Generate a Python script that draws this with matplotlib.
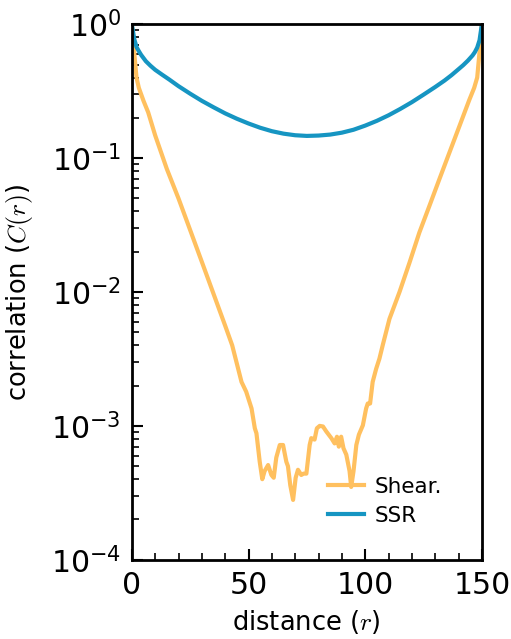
import numpy as np
import matplotlib
matplotlib.use("Agg")
from matplotlib import pyplot as plt
from matplotlib.ticker import MultipleLocator, LogLocator, NullFormatter

plt.rcParams["mathtext.fontset"] = "cm"

# SSR correlation
r_ssr = [0, 1, 2, 3, 4, 6, 8, 10, 13, 16, 20, 25, 30, 35, 40, 45, 50, 55, 60, 65,
         70, 75, 80, 85, 90, 95, 100, 105, 110, 115, 120, 125, 130, 134, 137, 140,
         142, 144, 146, 147, 148, 149, 150]
c_ssr = [1.0, 0.78, 0.676, 0.63, 0.59, 0.53, 0.49, 0.457, 0.42, 0.387, 0.345, 0.303,
         0.268, 0.240, 0.216, 0.197, 0.1815, 0.1687, 0.159, 0.1524, 0.1483, 0.1466,
         0.1475, 0.150, 0.155, 0.163, 0.175, 0.190, 0.209, 0.233, 0.262, 0.298,
         0.340, 0.380, 0.417, 0.462, 0.495, 0.535, 0.585, 0.62, 0.67, 0.76, 1.0]

# Shear correlation
r_shear = [0, 1, 2, 3, 5, 7, 10, 15, 20, 25, 30, 35, 40, 43, 47, 49, 51.3, 52.7, 53.4,
           54.8, 55.9, 56.9, 58.4, 59.8, 60.8, 61.9, 63.4, 64.8, 66.2, 66.9, 67.9, 69.1,
           70.2, 71.2, 72.6, 73.6, 74.8, 76.2, 76.9, 78.3, 79.3, 80.5, 81.9, 83.3, 85.5,
           86.9, 87.9, 88.7, 89.7, 90.7, 91.9, 93.3, 94, 95, 96.2, 97.3, 99, 100.4,
           101.1, 102.1, 103.2, 104.7, 106.1, 107.5, 110.4, 114.7, 119, 123.2, 127.5,
           131.7, 136, 140.3, 144.6, 146.7, 148, 149, 150]
c_shear = [1.0, 0.62, 0.40, 0.335, 0.268, 0.22, 0.148, 0.083, 0.05, 0.029, 0.0168,
           0.0097, 0.0056, 0.0040, 0.00213, 0.0018, 0.00135, 0.00096, 0.00088,
           0.00054, 0.0004, 0.00046, 0.00051, 0.00043, 0.00041, 0.00058, 0.00072,
           0.00072, 0.00054, 0.0005, 0.00036, 0.00028, 0.00041, 0.00047, 0.00043,
           0.00044, 0.00044, 0.00072, 0.00081, 0.00079, 0.00096, 0.001, 0.00099,
           0.00091, 0.00081, 0.00074, 0.00083, 0.0007, 0.00083, 0.00068, 0.00061,
           0.00046, 0.00035, 0.00046, 0.00072, 0.00086, 0.00101, 0.00135, 0.00147,
           0.00147, 0.00213, 0.00267, 0.00318, 0.0040, 0.0063, 0.010, 0.0166, 0.0278,
           0.0439, 0.069, 0.109, 0.172, 0.272, 0.335, 0.40, 0.62, 1.0]

fig = plt.figure(figsize=(5.11, 6.39), dpi=100)
ax = fig.add_axes([0.258, 0.124, 0.685, 0.838])

ax.plot(r_shear, c_shear, color="#ffc05f", lw=3, label="Shear.")
ax.plot(r_ssr, c_ssr, color="#1695c2", lw=3, label="SSR")

ax.set_yscale("log")
ax.set_ylim(1e-4, 1)
ax.set_xlim(0, 150)
ax.xaxis.set_major_locator(MultipleLocator(50))
ax.xaxis.set_minor_locator(MultipleLocator(10))
ax.yaxis.set_major_locator(LogLocator(base=10, numticks=10))
ax.yaxis.set_minor_locator(LogLocator(base=10, subs=np.arange(2, 10), numticks=20))
ax.yaxis.set_minor_formatter(NullFormatter())

ax.tick_params(which="both", direction="in", top=False, right=False, labelsize=21.5)
ax.tick_params(which="major", length=8, width=1.5, pad=8)
ax.tick_params(which="minor", length=5, width=1.2)
for s in ax.spines.values():
    s.set_linewidth(2)

ax.set_xlabel("distance ($r$)", fontsize=18.5, labelpad=6)
ax.set_ylabel("correlation ($C(r)$)", fontsize=18.5, labelpad=11)

ax.legend(loc="lower right", bbox_to_anchor=(0.912, 0.047), borderaxespad=0,
          frameon=False, fontsize=15.5, handlelength=1.7, handletextpad=0.5,
          labelspacing=0.42)

fig.savefig("out.png", dpi=100)
